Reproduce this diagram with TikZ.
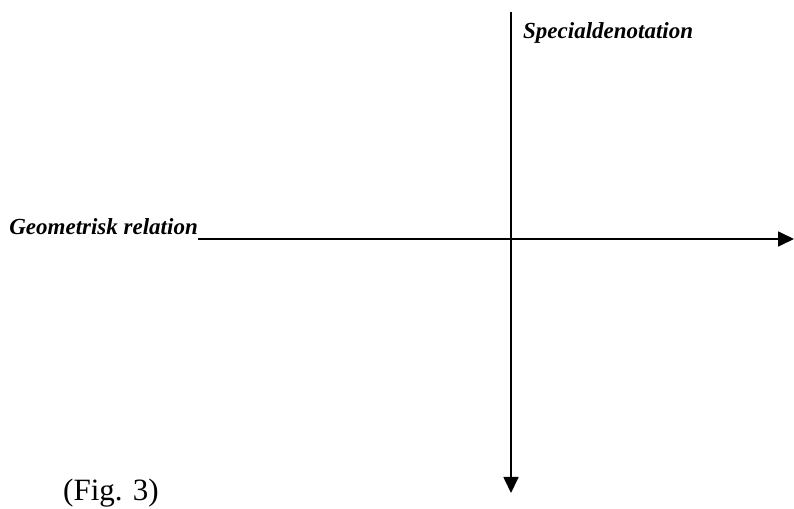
\documentclass[tikz,border=0pt]{standalone}
\usepackage{fontspec}
\setmainfont{Liberation Serif}
\usetikzlibrary{arrows.meta}
\begin{document}
\begin{tikzpicture}[x=1pt,y=1pt,
  axis/.style={line width=1.7pt,-{Triangle[length=16pt,width=15pt]}},
  lbl/.style={inner sep=0pt,font=\fontsize{23}{27}\selectfont\bfseries\itshape},
  figcap/.style={inner sep=0pt,font=\fontsize{31}{36}\selectfont}]
\useasboundingbox (0,0) rectangle (794,508);
\node[lbl,anchor=base east] (geo) at (198,273) {Geometrisk relation};
\node[lbl,anchor=base west] (spec) at (523,469) {Specialdenotation};
\node[figcap,anchor=base west] (fig) at (63,8) {(Fig. 3)};
\coordinate (htail) at (198,269);
\coordinate (hhead) at (794,269);
\coordinate (vtail) at (511,496);
\coordinate (vhead) at (511,15);
\draw[axis] (htail) -- (hhead);
\draw[axis] (vtail) -- (vhead);
\end{tikzpicture}
\end{document}
